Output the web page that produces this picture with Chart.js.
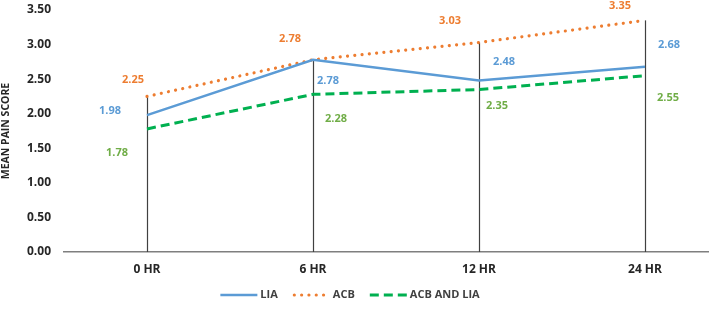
<!DOCTYPE html>
<html>
<head>
<meta charset="utf-8">
<script src="https://cdn.jsdelivr.net/npm/chart.js@4/dist/chart.umd.min.js"></script>
<style>
  html, body { margin: 0; padding: 0; background: #ffffff; overflow: hidden; }
  #wrap { width: 709px; height: 309px; overflow: hidden; position: relative; }
  canvas { display: block; }
</style>
</head>
<body>
<div id="wrap"><canvas id="c" width="730" height="309"></canvas></div>
<script>
// ---- data ----
const categories = ['0 HR', '6 HR', '12 HR', '24 HR'];
const seriesNames = ['LIA', 'ACB', 'ACB AND LIA'];
const liaValues = [1.98, 2.78, 2.48, 2.68];
const acbValues = [2.25, 2.78, 3.03, 3.35];
const acbLiaValues = [1.78, 2.28, 2.35, 2.55];
const yAxisTitle = 'MEAN PAIN SCORE';
const yMin = 0, yMax = 3.5, yStep = 0.5;

// ---- styling ----
const FONT = '"Open Sans", "Liberation Sans", Arial, sans-serif';
const lineColors = ['#5B9BD5', '#ED7D31', '#00B050'];
const labelColors = ['#5B9BD5', '#ED7D31', '#70AD47'];
// label offsets (px) relative to each point, per series
const labelOffsets = [
  [[-37, -4], [15, 21], [25, -19], [24, -22]],
  [[-14, -17], [-23, -21], [-29, -22], [-25, -15]],
  [[-30, 24], [23, 25], [18, 16], [23, 22]]
];

const dropLines = {
  id: 'dropLines',
  beforeDatasetsDraw(chart) {
    const ctx = chart.ctx;
    const y = chart.scales.y;
    const n = chart.data.labels.length;
    ctx.save();
    ctx.strokeStyle = '#404040';
    ctx.lineWidth = 1.2;
    for (let i = 0; i < n; i++) {
      let maxV = -Infinity, px = null;
      chart.data.datasets.forEach((ds, di) => {
        const meta = chart.getDatasetMeta(di);
        if (ds.data[i] > maxV) { maxV = ds.data[i]; px = meta.data[i].x; }
      });
      ctx.beginPath();
      ctx.moveTo(Math.round(px) + 0.5, y.getPixelForValue(maxV));
      ctx.lineTo(Math.round(px) + 0.5, y.getPixelForValue(0));
      ctx.stroke();
    }
    ctx.restore();
  }
};

const valueLabels = {
  id: 'valueLabels',
  afterDatasetsDraw(chart) {
    const ctx = chart.ctx;
    ctx.save();
    ctx.font = 'bold 11px ' + FONT;
    ctx.textAlign = 'center';
    ctx.textBaseline = 'middle';
    chart.data.datasets.forEach((ds, di) => {
      const meta = chart.getDatasetMeta(di);
      ctx.fillStyle = labelColors[di];
      meta.data.forEach((pt, i) => {
        const off = labelOffsets[di][i];
        ctx.fillText(ds.data[i].toFixed(2), pt.x + off[0], pt.y + off[1]);
      });
    });
    ctx.restore();
  }
};

const customLegend = {
  id: 'customLegend',
  afterDraw(chart) {
    const ctx = chart.ctx;
    ctx.save();
    ctx.font = 'bold 11px ' + FONT;
    ctx.textBaseline = 'middle';
    const sampleW = 37, gapText = 3, gapItem = 15;
    const items = chart.data.datasets.map((ds) => ({
      ds, w: sampleW + gapText + ctx.measureText(ds.label).width
    }));
    const total = items.reduce((s, it) => s + it.w, 0) + gapItem * (items.length - 1);
    let x = 350 - total / 2;
    const yc = 295;
    items.forEach((it) => {
      const ds = it.ds;
      ctx.strokeStyle = ds.borderColor;
      ctx.lineWidth = ds.borderWidth;
      ctx.lineCap = ds.borderCapStyle || 'butt';
      ctx.setLineDash(ds.borderDash || []);
      ctx.beginPath();
      ctx.moveTo(x + (ds.borderCapStyle === 'round' ? 1.5 : 0), yc);
      ctx.lineTo(x + sampleW, yc);
      ctx.stroke();
      ctx.setLineDash([]);
      ctx.fillStyle = '#404040';
      ctx.fillText(ds.label, x + sampleW + gapText, yc);
      x += it.w + gapItem;
    });
    ctx.restore();
  }
};

new Chart(document.getElementById('c'), {
  type: 'line',
  data: {
    labels: categories,
    datasets: [
      { label: seriesNames[0], data: liaValues, borderColor: lineColors[0], backgroundColor: lineColors[0],
        borderWidth: 2.5, pointRadius: 0, tension: 0, borderCapStyle: 'butt' },
      { label: seriesNames[1], data: acbValues, borderColor: lineColors[1], backgroundColor: lineColors[1],
        borderWidth: 3.2, pointRadius: 0, tension: 0, borderDash: [0.01, 7.3], borderCapStyle: 'round' },
      { label: seriesNames[2], data: acbLiaValues, borderColor: lineColors[2], backgroundColor: lineColors[2],
        borderWidth: 3, pointRadius: 0, tension: 0, borderDash: [9, 5], borderCapStyle: 'butt' }
    ]
  },
  options: {
    responsive: false,
    animation: false,
    events: [],
    layout: { padding: { top: 10, right: 2, left: 0, bottom: 0 } },
    plugins: { legend: { display: false }, tooltip: { enabled: false } },
    scales: {
      x: {
        type: 'category',
        offset: true,
        grid: { display: false, drawTicks: false },
        border: { display: true, color: '#7f7f7f', width: 1.5 },
        ticks: { color: '#262626', font: { family: FONT, size: 12, weight: 'bold' }, padding: 10, maxRotation: 0 },
        afterFit(scale) { scale.height = 57; scale.paddingLeft = 0; scale.paddingRight = 0; }
      },
      y: {
        min: yMin, max: yMax,
        grid: { display: false, drawTicks: false },
        border: { display: false },
        ticks: { stepSize: yStep, color: '#262626', padding: 13,
          font: { family: FONT, size: 12, weight: 'bold' },
          callback: (v) => Number(v).toFixed(2) },
        title: { display: true, text: yAxisTitle, color: '#262626', padding: 0,
          font: { family: FONT, size: 10.5, weight: 'bold' } },
        afterFit(scale) { scale.width = 64; scale.paddingTop = 0; scale.paddingBottom = 0; }
      }
    }
  },
  plugins: [dropLines, valueLabels, customLegend]
});
</script>
</body>
</html>
